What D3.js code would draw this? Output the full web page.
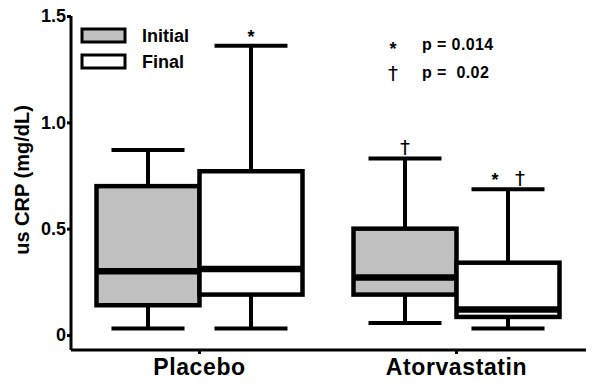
<!DOCTYPE html>
<html>
<head>
<meta charset="utf-8">
<script src="https://cdn.jsdelivr.net/npm/d3@7"></script>
<style>
  body { margin: 0; background: #fff; }
  text { font-family: "Liberation Sans", Arial, sans-serif; font-weight: bold; fill: #000; }
  .dagger { font-family: "DejaVu Sans", sans-serif; font-weight: normal; }
</style>
</head>
<body>
<svg id="chart" width="592" height="383"></svg>
<script>
// Data
const groups = ["Placebo", "Atorvastatin"];
const series = ["Initial", "Final"];
// [min, q1, median, q3, max] per group, per series
const initialStats = [
    [0.03, 0.14, 0.30, 0.70, 0.87],
    [0.056, 0.19, 0.27, 0.50, 0.83]
];
const finalStats = [
    [0.03, 0.19, 0.31, 0.77, 1.36],
    [0.03, 0.085, 0.12, 0.34, 0.685]
];
const yTicks = [0, 0.5, 1.0, 1.5];
const yTickLabels = ["0", "0.5", "1.0", "1.5"];
// significance marks above the whiskers: group, series, symbols
const marks = [
    { group: "Placebo", series: "Final", symbols: ["*"] },
    { group: "Atorvastatin", series: "Initial", symbols: ["\u2020"] },
    { group: "Atorvastatin", series: "Final", symbols: ["*", "\u2020"] }
];
const pValues = [
    { symbol: "*", text: "p = 0.014" },
    { symbol: "\u2020", text: "p =  0.02" }
];

const fills = { Initial: "#c0c0c0", Final: "#ffffff" };

const svg = d3.select("#chart");

const x = d3.scaleBand().domain(groups).range([71, 585]);
const inner = d3.scaleBand().domain(series).range([-103, 103]);
const y = d3.scaleLinear().domain([0, 1.5]).range([335, 16]);

// Build rows from the arrays
const rows = [];
groups.forEach((g, i) => {
    rows.push({ group: g, series: "Initial", s: initialStats[i] });
    rows.push({ group: g, series: "Final", s: finalStats[i] });
});

const boxes = svg.append("g")
    .selectAll("g")
    .data(rows)
    .enter()
    .append("g")
    .attr("transform", d => `translate(${x(d.group) + x.bandwidth() / 2},0)`);

const bw = inner.bandwidth();
const capW = 73;

// whiskers
boxes.append("line")
    .attr("x1", d => inner(d.series) + bw / 2)
    .attr("x2", d => inner(d.series) + bw / 2)
    .attr("y1", d => y(d.s[0]))
    .attr("y2", d => y(d.s[4]))
    .attr("stroke", "#000").attr("stroke-width", 4);
[0, 4].forEach(k => {
    boxes.append("line")
        .attr("x1", d => inner(d.series) + bw / 2 - capW / 2)
        .attr("x2", d => inner(d.series) + bw / 2 + capW / 2)
        .attr("y1", d => y(d.s[k]))
        .attr("y2", d => y(d.s[k]))
        .attr("stroke", "#000").attr("stroke-width", 4);
});

// box
boxes.append("rect")
    .attr("x", d => inner(d.series))
    .attr("width", bw)
    .attr("y", d => y(d.s[3]))
    .attr("height", d => y(d.s[1]) - y(d.s[3]))
    .attr("fill", d => fills[d.series])
    .attr("stroke", "#000").attr("stroke-width", 4.5);

// median
boxes.append("line")
    .attr("x1", d => inner(d.series))
    .attr("x2", d => inner(d.series) + bw)
    .attr("y1", d => y(d.s[2]))
    .attr("y2", d => y(d.s[2]))
    .attr("stroke", "#000").attr("stroke-width", 6.5);

// axes
const yAxis = svg.append("g")
    .attr("transform", "translate(71,0)")
    .call(d3.axisLeft(y).tickValues(yTicks).tickFormat((d, i) => yTickLabels[i]).tickSize(4).tickSizeOuter(0));
yAxis.select(".domain").attr("stroke", "#000").attr("stroke-width", 3)
    .attr("d", `M0,${y(1.5)}V350`);
yAxis.selectAll(".tick line").attr("stroke-width", 3);
yAxis.selectAll(".tick text")
    .attr("x", -5)
    .style("font-size", "18px");

const xAxis = svg.append("g")
    .attr("transform", "translate(0,350)")
    .call(d3.axisBottom(x).tickSize(4).tickSizeOuter(0));
xAxis.select(".domain").attr("stroke-width", 3).attr("d", "M71,0H586");
xAxis.selectAll(".tick line").attr("stroke-width", 3);
xAxis.selectAll(".tick text")
    .attr("y", 9)
    .style("font-size", "23px")
    .style("letter-spacing", "0.6px");

svg.append("text")
    .attr("transform", "translate(29,180) rotate(-90)")
    .attr("text-anchor", "middle")
    .style("font-size", "20px")
    .text("us CRP (mg/dL)");

// legend
const legend = svg.append("g")
    .selectAll("g")
    .data(series)
    .enter()
    .append("g")
    .attr("transform", (d, i) => `translate(82,${29 + i * 26})`);
legend.append("rect")
    .attr("width", 43).attr("height", 13)
    .attr("fill", d => fills[d])
    .attr("stroke", "#000").attr("stroke-width", 3);
legend.append("text")
    .attr("x", 60).attr("y", 13)
    .style("font-size", "18px")
    .text(d => d);

function statsFor(m) {
    const gi = groups.indexOf(m.group);
    return m.series === "Initial" ? initialStats[gi] : finalStats[gi];
}

// significance marks
marks.forEach(m => {
    const cx = x(m.group) + x.bandwidth() / 2 + inner(m.series) + bw / 2;
    const top = y(statsFor(m)[4]);
    m.symbols.forEach((sym, j) => {
        const off = m.symbols.length > 1 ? (j === 0 ? -13 : 12) : 0;
        svg.append("text")
            .attr("class", sym === "*" ? null : "dagger")
            .attr("x", cx + off)
            .attr("y", sym === "*" ? top - 3 : top - 4)
            .attr("text-anchor", "middle")
            .style("font-size", sym === "*" ? "18px" : "20px")
            .text(sym);
    });
});

// p-value key
pValues.forEach((p, i) => {
    svg.append("text")
        .attr("class", p.symbol === "*" ? null : "dagger")
        .attr("x", 393).attr("y", i === 0 ? 55 : 80)
        .attr("text-anchor", "middle")
        .style("font-size", i === 0 ? "18px" : "20px")
        .text(p.symbol);
    svg.append("text")
        .attr("x", 422).attr("y", 50 + i * 28)
        .style("font-size", "16px")
        .style("letter-spacing", "0.4px")
        .attr("xml:space", "preserve")
        .text(p.text);
});
</script>
</body>
</html>
